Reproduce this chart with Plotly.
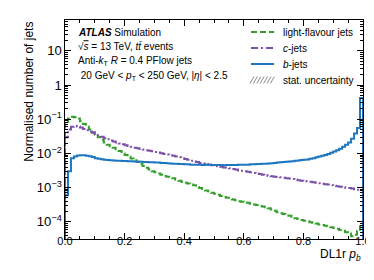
import numpy as np
import plotly.graph_objects as go

# ---- data (bin width 0.01, 100 bins on DL1r p_b) ----
bin_edges = [round(0.01 * i, 2) for i in range(101)]

light_jets = [
    0.078, 0.105, 0.118, 0.115, 0.105, 0.088, 0.072, 0.060, 0.050, 0.042,
    0.035, 0.030, 0.025, 0.021, 0.018, 0.0163, 0.0147, 0.0133, 0.0117, 0.0102,
    0.0090, 0.0080, 0.0071, 0.0063, 0.0056, 0.0049, 0.0043, 0.0038, 0.0034, 0.0030,
    0.0028, 0.0026, 0.0024, 0.0022, 0.0021, 0.0020, 0.0019, 0.0017, 0.0016, 0.0015,
    0.0014, 0.00132, 0.00124, 0.00118, 0.00104, 0.00098, 0.00091, 0.00082, 0.00078, 0.00071,
    0.00066, 0.00062, 0.00057, 0.00053, 0.00051, 0.00047, 0.00045, 0.00043, 0.00040, 0.00039,
    0.00037, 0.00036, 0.00034, 0.00032, 0.00031, 0.00029, 0.00028, 0.00027, 0.00025, 0.00023,
    0.00021, 0.00019, 0.00018, 0.00017, 0.000155, 0.000150, 0.000140, 0.000128, 0.000121, 0.000113,
    0.000108, 0.000104, 0.000097, 0.000093, 0.000090, 0.000084, 0.000081, 0.000077, 0.000075, 0.000070,
    0.000066, 0.000063, 0.000058, 0.000055, 0.000050, 0.000046, 0.000038, 0.000042, 0.000054, 0.000074,
]

c_jets = [
    0.030, 0.050, 0.060, 0.063, 0.061, 0.057, 0.052, 0.048, 0.044, 0.040,
    0.037, 0.034, 0.031, 0.028, 0.026, 0.024, 0.0225, 0.021, 0.0197, 0.0185,
    0.0175, 0.0165, 0.0156, 0.0148, 0.0142, 0.0136, 0.0130, 0.0125, 0.0120, 0.0116,
    0.0111, 0.0106, 0.0101, 0.0097, 0.0093, 0.0089, 0.0085, 0.0081, 0.0077, 0.0073,
    0.0069, 0.0065, 0.0061, 0.0058, 0.0056, 0.0053, 0.0051, 0.0049, 0.0047, 0.0045,
    0.0044, 0.0042, 0.0041, 0.0039, 0.0038, 0.0037, 0.0035, 0.0034, 0.0032, 0.0031,
    0.0030, 0.0029, 0.0028, 0.0027, 0.0026, 0.0025, 0.0024, 0.0023, 0.0022, 0.00215,
    0.0021, 0.00205, 0.0020, 0.00195, 0.0019, 0.00185, 0.0018, 0.00172, 0.00165, 0.00160,
    0.00157, 0.00153, 0.00148, 0.00143, 0.00140, 0.00135, 0.00130, 0.00126, 0.00123, 0.00118,
    0.00113, 0.00110, 0.00106, 0.00103, 0.00099, 0.00097, 0.00094, 0.00090, 0.00087, 0.00085,
]

b_jets = [
    0.0006, 0.0030, 0.0072, 0.0082, 0.0087, 0.0089, 0.0088, 0.0085, 0.0083, 0.0079,
    0.0073, 0.0070, 0.0068, 0.0066, 0.0064, 0.0063, 0.0062, 0.0061, 0.0061, 0.0060,
    0.0060, 0.0059, 0.0059, 0.0058, 0.0058, 0.0057, 0.0056, 0.0056, 0.0055, 0.0055,
    0.0054, 0.0054, 0.0053, 0.0053, 0.0052, 0.0051, 0.0050, 0.0050, 0.0049, 0.0049,
    0.0048, 0.0048, 0.0047, 0.0047, 0.0047, 0.0047, 0.0046, 0.0047, 0.0047, 0.0046,
    0.0046, 0.0046, 0.0046, 0.0045, 0.0046, 0.0046, 0.0046, 0.0046, 0.0047, 0.0047,
    0.0047, 0.0047, 0.0048, 0.0048, 0.0049, 0.0049, 0.0050, 0.0050, 0.0051, 0.0052,
    0.0053, 0.0054, 0.0055, 0.0056, 0.0057, 0.0058, 0.0059, 0.0061, 0.0062, 0.0064,
    0.0065, 0.0067, 0.0070, 0.0073, 0.0077, 0.0081, 0.0085, 0.0090, 0.0097, 0.0105,
    0.0114, 0.0125, 0.0138, 0.0158, 0.018, 0.021, 0.027, 0.038, 0.055, 0.42,
]

series_names = ["light-flavour jets", "<i>c</i>-jets", "<i>b</i>-jets"]
series_colors = ["#33a02c", "#7d52a6", "#1f77c0"]
series_dash = ["6px,3px", "8px,2.5px,2px,2.5px", "solid"]
unc_name = "stat. uncertainty"

x_tick_vals = [0.0, 0.2, 0.4, 0.6, 0.8, 1.0]
FLOOR = 2e-5  # histogram outline drops to the bottom of the frame

FONT = "Liberation Sans, Arial, Helvetica, sans-serif"


def step_xy(edges, vals):
    xs = [edges[0]] + list(edges[:-1]) + [edges[-1]]
    ys = [FLOOR] + list(vals) + [FLOOR]
    return xs, ys


fig = go.Figure()
for vals, name, col, dash in zip([light_jets, c_jets, b_jets], series_names,
                                 series_colors, series_dash):
    xs, ys = step_xy(bin_edges, vals)
    fig.add_trace(go.Scatter(
        x=xs, y=ys, mode="lines", name=name, showlegend=False,
        line=dict(color=col, width=2, dash=dash, shape="hv"),
    ))

axis_common = dict(
    showline=True, linecolor="black", linewidth=1, mirror="allticks",
    ticks="inside", ticklen=6, tickcolor="black", tickwidth=1,
    showgrid=False, zeroline=False,
)

fig.update_xaxes(
    range=[0, 1], tickvals=x_tick_vals, tickformat=".1f",
    tickfont=dict(family=FONT, size=11, color="black"),
    ticklabelstandoff=-8,
    minor=dict(ticks="inside", ticklen=3, dtick=0.05, tickcolor="black", showgrid=False),
    **axis_common,
)
fig.update_yaxes(
    type="log", range=[-4.5, 1.9], dtick=1, exponentformat="power",
    tickfont=dict(family=FONT, size=10.5, color="black"),
    minor=dict(ticks="inside", ticklen=3, dtick="D1", tickcolor="black", showgrid=False),
    **axis_common,
)

# ---- plot-area labels ----
ann_font = dict(family=FONT, size=10, color="black")
texts = [
    ("<b><i>ATLAS</i></b> Simulation", 0.037, 0.945),
    ("√<span style='text-decoration:overline'><i>s</i></span> = 13 TeV, <i>tt̄</i> events", 0.037, 0.880),
    ("Anti-<i>k</i><sub>T</sub> <i>R</i> = 0.4 PFlow jets", 0.037, 0.815),
    (" 20 GeV &lt; <i>p</i><sub>T</sub> &lt; 250 GeV, |<i>η</i>| &lt; 2.5", 0.037, 0.745),
]
for t, x, y in texts:
    fig.add_annotation(text=t, x=x, y=y, xref="paper", yref="paper",
                       xanchor="left", yanchor="middle", showarrow=False, font=ann_font)

# ---- legend (drawn in paper coordinates) ----
PW, PH, ML, MT = 298.0, 219.0, 57.0, 12.0


def px(xp):
    return (xp - ML) / PW


def py(yp):
    return 1 - (yp - MT) / PH


leg_rows = [24, 40, 56, 72]
for row, col, dash, name in zip(leg_rows[:3], series_colors, ["dash", "dashdot", "solid"], series_names):
    fig.add_shape(type="line", xref="paper", yref="paper",
                  x0=px(243), x1=px(266), y0=py(row), y1=py(row),
                  line=dict(color=col, width=2,
                            dash={"dash": "6px,3px", "dashdot": "7px,3px,2px,3px", "solid": "solid"}[dash]))
    fig.add_annotation(text=name, x=px(273), y=py(row), xref="paper", yref="paper",
                       xanchor="left", yanchor="middle", showarrow=False, font=ann_font)
# hatched box for the statistical uncertainty
hy = leg_rows[3]
for k in range(7):
    x0 = 242 + 3.4 * k
    fig.add_shape(type="line", xref="paper", yref="paper",
                  x0=px(x0), x1=px(x0 + 4), y0=py(hy + 3.5), y1=py(hy - 3.5),
                  line=dict(color="#8c8c8c", width=1))
fig.add_annotation(text=unc_name, x=px(273), y=py(hy), xref="paper", yref="paper",
                   xanchor="left", yanchor="middle", showarrow=False, font=ann_font)

# ---- axis titles ----
fig.add_annotation(text="DL1r <i>p</i><sub><i>b</i></sub>", x=1.0, y=-0.075,
                   xref="paper", yref="paper", xanchor="right", yanchor="middle",
                   showarrow=False, font=dict(family=FONT, size=12, color="black"))
fig.add_annotation(text="Normalised number of jets", x=-0.122, y=1.0,
                   xref="paper", yref="paper", xanchor="center", yanchor="top",
                   textangle=-90, showarrow=False,
                   font=dict(family=FONT, size=12, color="black"))

fig.update_layout(
    width=374, height=280,
    margin=dict(l=57, r=19, t=12, b=49),
    paper_bgcolor="white", plot_bgcolor="white",
    showlegend=False,
    font=dict(family=FONT),
)

fig.write_html("out.html")
